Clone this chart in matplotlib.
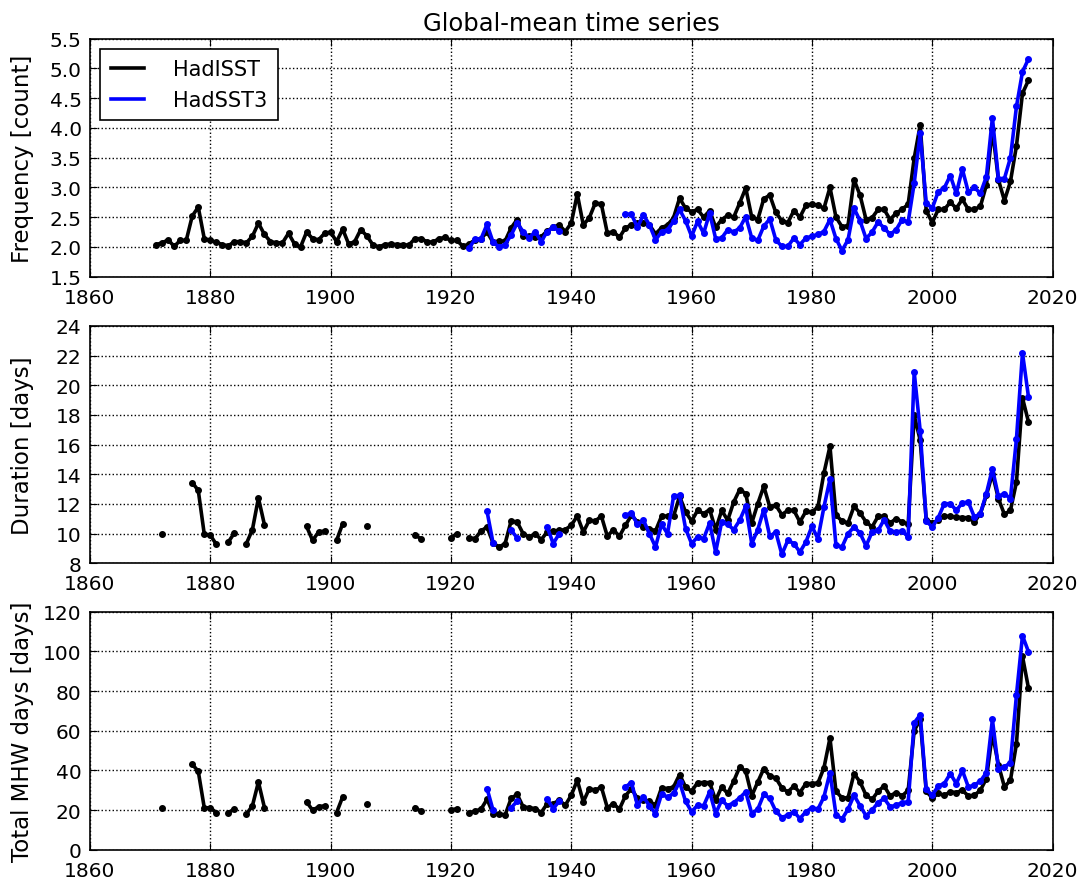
import numpy as np
import matplotlib
matplotlib.use("Agg")
import matplotlib.pyplot as plt

nan = np.nan

# years
years_isst = np.arange(1871, 2017)
years_sst3 = np.arange(1923, 2017)

# Frequency [count]
freq_isst = [
    2.04, 2.07, 2.12, 2.01, 2.11, 2.11, 2.52, 2.67, 2.14,
    2.11, 2.08, 2.04, 2.02, 2.09, 2.09, 2.07, 2.18, 2.40, 2.21,
    2.09, 2.07, 2.07, 2.23, 2.05, 2.00, 2.25, 2.14, 2.12, 2.23,
    2.25, 2.09, 2.30, 2.05, 2.09, 2.29, 2.19, 2.04, 2.00, 2.04,
    2.05, 2.04, 2.04, 2.03, 2.14, 2.14, 2.09, 2.08, 2.14, 2.16,
    2.11, 2.11, 2.01, 2.05, 2.12, 2.14, 2.25, 2.08, 2.10, 2.10,
    2.32, 2.46, 2.18, 2.18, 2.17, 2.17, 2.27, 2.33, 2.37, 2.26,
    2.40, 2.89, 2.37, 2.49, 2.74, 2.72, 2.23, 2.26, 2.16, 2.32,
    2.37, 2.41, 2.41, 2.37, 2.22, 2.32, 2.37, 2.49, 2.82, 2.65,
    2.59, 2.63, 2.50, 2.61, 2.33, 2.46, 2.53, 2.50, 2.74, 2.99,
    2.50, 2.46, 2.81, 2.87, 2.58, 2.44, 2.41, 2.61, 2.50, 2.70,
    2.72, 2.70, 2.65, 3.00, 2.50, 2.34, 2.36, 3.13, 2.87, 2.46,
    2.49, 2.63, 2.63, 2.46, 2.57, 2.63, 2.72, 3.49, 4.05, 2.61,
    2.41, 2.63, 2.63, 2.75, 2.65, 2.80, 2.63, 2.63, 2.68, 3.04,
    3.98, 3.13, 2.78, 3.10, 3.70, 4.58, 4.80,
]
freq_sst3 = [
    1.98, 2.13, 2.14, 2.38, 2.08, 2.00, 2.04,
    2.20, 2.40, 2.26, 2.15, 2.26, 2.09, 2.26, 2.33, 2.27, nan,
    nan, nan, nan, nan, nan, nan, nan, nan, nan, 2.55,
    2.55, 2.33, 2.54, 2.37, 2.12, 2.25, 2.29, 2.43, 2.63, 2.44,
    2.18, 2.43, 2.23, 2.57, 2.14, 2.15, 2.29, 2.25, 2.32, 2.51,
    2.15, 2.11, 2.35, 2.47, 2.12, 2.01, 2.01, 2.15, 2.04, 2.15,
    2.18, 2.21, 2.26, 2.46, 2.14, 1.94, 2.12, 2.65, 2.44, 2.14,
    2.25, 2.42, 2.32, 2.21, 2.29, 2.46, 2.42, 3.07, 3.91, 2.74,
    2.65, 2.93, 2.99, 3.20, 2.90, 3.31, 2.92, 3.00, 2.90, 3.18,
    4.17, 3.15, 3.15, 3.50, 4.36, 4.94, 5.16,
]

# Duration [days]
dur_isst = [
    nan, 10.0, nan, nan, nan, nan, 13.44, 12.92, 9.96,
    9.90, 9.28, nan, 9.44, 10.04, nan, 9.33, 10.27, 12.40, 10.60,
    nan, nan, nan, nan, nan, nan, 10.49, 9.55, 10.11, 10.18,
    nan, 9.55, 10.67, nan, nan, nan, 10.52, nan, nan, nan,
    nan, nan, nan, nan, 9.93, 9.66, nan, nan, nan, nan,
    9.73, 10.00, nan, 9.73, 9.66, 10.18, 10.45, 9.37, 9.10, 9.33,
    10.85, 10.79, 10.00, 9.78, 10.00, 9.60, 10.11, 10.18, 10.22, 10.27,
    10.56, 11.19, 10.11, 10.90, 10.85, 11.19, 9.82, 10.27, 9.82, 10.56,
    11.24, 10.79, 10.45, 10.34, 10.18, 11.17, 11.19, 11.17, 12.52, 11.46,
    10.85, 11.57, 11.35, 11.62, 10.27, 11.57, 10.90, 12.13, 12.97, 12.70,
    10.72, 12.02, 13.19, 11.80, 11.91, 11.28, 11.57, 11.57, 10.79, 11.50,
    11.46, 11.80, 14.09, 15.89, 11.24, 10.85, 10.72, 11.84, 11.39, 10.79,
    10.45, 11.17, 11.17, 10.72, 11.01, 10.79, 10.63, 17.98, 16.29, 10.94,
    10.72, 10.90, 11.17, 11.17, 11.12, 11.08, 11.08, 10.79, 11.35, 12.58,
    14.04, 12.36, 11.30, 11.57, 13.48, 19.15, 17.53,
]
dur_sst3 = [
    nan, nan, nan, 11.50, 9.37, nan, nan,
    10.22, 9.73, nan, nan, nan, nan, 10.45, 9.33, 10.00, nan,
    nan, nan, nan, nan, nan, nan, nan, nan, nan, 11.24,
    11.39, 10.63, 10.90, 10.00, 9.10, 10.63, 10.00, 12.52, 12.58, 10.34,
    9.33, 9.78, 9.66, 10.72, 8.76, 10.79, 10.63, 10.27, 10.90, 11.84,
    9.33, 10.27, 11.62, 9.82, 10.11, 8.60, 9.55, 9.33, 8.76, 9.44,
    10.49, 9.66, 11.80, 13.66, 9.21, 9.10, 10.00, 10.45, 10.04, 9.17,
    10.11, 10.22, 10.94, 10.18, 10.11, 10.18, 9.78, 20.90, 16.92, 10.85,
    10.45, 11.08, 12.02, 12.02, 11.57, 12.07, 12.13, 11.12, 11.35, 12.70,
    14.38, 12.52, 12.70, 12.36, 16.40, 22.18, 19.21,
]

# Total MHW days [days]
days_isst = [
    nan, 21.2, nan, nan, nan, nan, 43.1, 39.6, 21.2,
    21.2, 18.8, nan, 18.8, 20.5, nan, 18.0, 22.2, 34.2, 21.3,
    nan, nan, nan, nan, nan, nan, 24.2, 20.0, 21.7, 22.2,
    nan, 18.8, 26.7, nan, nan, nan, 23.0, nan, nan, nan,
    nan, nan, nan, nan, 21.2, 19.5, nan, nan, nan, nan,
    20.0, 20.8, nan, 18.8, 19.5, 20.5, 25.5, 18.3, 18.3, 17.5,
    25.9, 28.0, 21.7, 21.2, 20.8, 18.8, 23.3, 23.3, 25.0, 22.5,
    27.5, 35.1, 24.2, 30.9, 30.0, 31.7, 21.2, 23.3, 20.5, 27.2,
    30.9, 25.9, 25.0, 24.5, 22.5, 31.2, 30.9, 31.7, 37.9, 31.7,
    29.5, 33.9, 33.9, 33.9, 25.0, 31.7, 28.4, 34.6, 41.8, 39.6,
    27.2, 34.2, 40.9, 37.2, 36.2, 31.2, 29.2, 32.1, 28.9, 33.4,
    33.4, 33.7, 41.3, 56.3, 29.5, 26.2, 26.2, 38.4, 34.2, 27.5,
    25.4, 29.5, 32.2, 27.2, 28.9, 27.2, 30.0, 60.0, 65.7, 29.5,
    26.2, 28.4, 27.5, 29.2, 28.9, 30.0, 27.2, 27.5, 30.0, 35.9,
    58.5, 42.9, 31.7, 35.1, 53.5, 97.5, 81.4,
]
days_sst3 = [
    nan, nan, nan, 30.9, 20.0, nan, nan,
    21.2, 24.5, nan, nan, nan, nan, 25.5, 20.8, 24.5, nan,
    nan, nan, nan, nan, nan, nan, nan, nan, nan, 31.7,
    33.9, 22.5, 26.7, 22.2, 18.3, 27.9, 26.7, 28.4, 34.2, 24.5,
    19.2, 22.5, 22.2, 29.2, 18.3, 25.0, 22.2, 23.8, 26.2, 29.2,
    18.3, 20.5, 27.9, 25.9, 19.5, 16.3, 17.5, 19.2, 15.8, 19.2,
    21.2, 20.5, 26.7, 38.9, 17.8, 15.5, 20.5, 27.5, 22.2, 17.2,
    20.0, 23.8, 25.9, 21.7, 22.5, 23.8, 24.2, 64.0, 68.0, 30.5,
    27.5, 32.2, 33.4, 38.4, 33.4, 40.1, 31.7, 32.6, 34.6, 38.9,
    65.7, 40.9, 41.8, 43.9, 78.1, 107.9, 99.8,
]

plt.rcParams['xtick.direction'] = 'in'
plt.rcParams['ytick.direction'] = 'in'
plt.rcParams['xtick.top'] = True
plt.rcParams['ytick.right'] = True
plt.rcParams['xtick.major.size'] = 5
plt.rcParams['ytick.major.size'] = 5

fig = plt.figure(figsize=(10.84, 8.79), dpi=100)

panels = [
    (freq_isst, freq_sst3, 'Frequency [count]', np.arange(1.5, 5.51, 0.5), '%.1f'),
    (dur_isst, dur_sst3, 'Duration [days]', np.arange(8, 25, 2), '%d'),
    (days_isst, days_sst3, 'Total MHW days [days]', np.arange(0, 121, 20), '%d'),
]
boxes = [
    [0.083, 0.684, 0.888, 0.271],
    [0.083, 0.358, 0.888, 0.270],
    [0.083, 0.032, 0.888, 0.271],
]

for i, (yi, ys, lab, yt, fmt) in enumerate(panels):
    ax = fig.add_axes(boxes[i])
    ax.plot(years_isst, yi, 'k-', lw=2.6, label='HadISST')
    ax.plot(years_isst, yi, 'k.', ms=8)
    ax.plot(years_sst3, ys, '-', color='#0000ff', lw=2.6, label='HadSST3')
    ax.plot(years_sst3, ys, '.', color='#0000ff', ms=8)
    ax.set_xlim(1860, 2020)
    ax.set_xticks(np.arange(1860, 2021, 20))
    ax.set_ylim(yt[0], yt[-1])
    ax.set_yticks(yt)
    ax.set_yticklabels([fmt % v for v in yt])
    ax.tick_params(labelsize=14.5)
    ax.tick_params(axis='x', pad=8)
    ax.tick_params(axis='y', pad=6)
    ax.set_ylabel(lab, fontsize=16.5)
    ax.yaxis.set_label_coords(-0.058, 0.5)
    ax.grid(True, color='k', linestyle=':', linewidth=1)
    for s in ax.spines.values():
        s.set_linewidth(1.2)
    if i == 0:
        ax.set_title('Global-mean time series', fontsize=17.5, pad=6)
        leg = ax.legend(loc='upper left', fontsize=15, fancybox=False,
                        edgecolor='k', framealpha=1, handlelength=1.6,
                        handletextpad=1.4, borderpad=0.5)
        leg.get_frame().set_linewidth(1.2)

fig.savefig('out.png', dpi=100, facecolor='white')
